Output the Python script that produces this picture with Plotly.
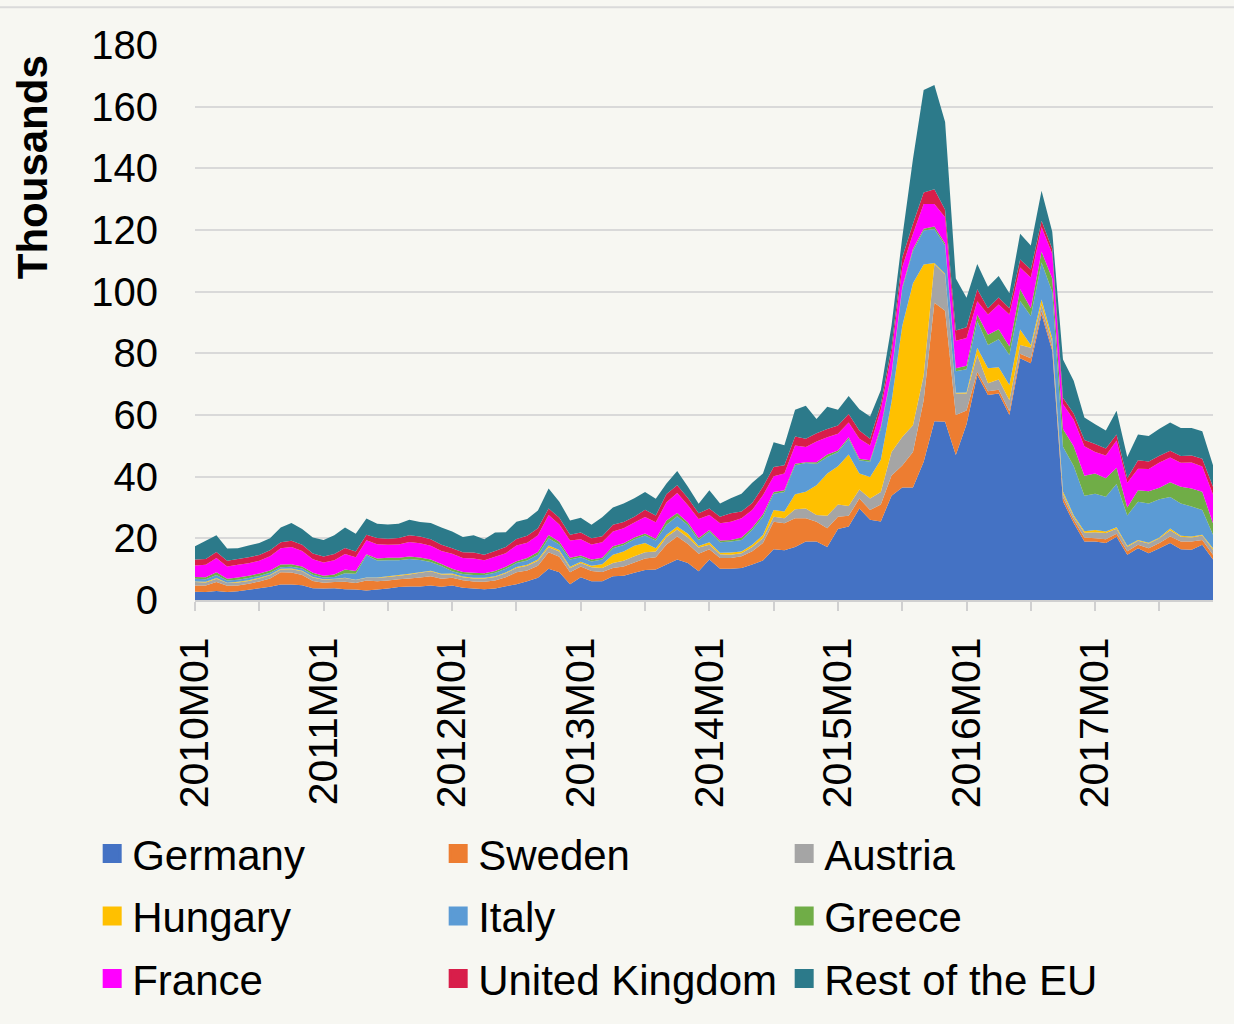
import plotly.graph_objects as go

# monthly asylum applications, thousands
MONTHS = [f"{y}M{m:02d}" for y in range(2010, 2018) for m in range(1, 13)]

GERMANY = [
    2.7, 2.6, 2.9, 2.6, 2.8, 3.3, 3.8, 4.3, 5.0, 5.0, 4.8, 3.8,
    3.7, 3.8, 3.5, 3.4, 3.1, 3.4, 3.7, 4.2, 4.4, 4.4, 4.7, 4.3,
    4.7, 4.0, 3.7, 3.5, 3.7, 4.5, 5.1, 6.1, 7.2, 10.1, 9.0, 5.1,
    7.4, 6.1, 6.1, 7.7, 7.9, 8.8, 9.7, 9.9, 11.5, 13.1, 12.0, 9.3,
    13.1, 10.1, 10.1, 10.4, 11.5, 12.8, 16.5, 16.1, 17.2, 19.0, 19.0, 17.2,
    23.0, 23.8, 29.7, 26.0, 25.5, 33.8, 36.5, 36.5, 44.8, 58.0, 57.8, 47.0,
    57.0, 73.0, 66.5, 67.0, 60.0, 78.4, 76.8, 92.6, 80.8, 32.0, 25.0, 19.0,
    19.0, 18.5, 20.5, 14.7, 16.8, 15.2, 16.8, 18.5, 16.5, 16.3, 17.9, 13.1,
]
SWEDEN = [
    2.0, 2.1, 2.9, 2.0, 1.9, 2.0, 2.2, 2.7, 4.0, 3.9, 3.3, 2.4,
    1.9, 2.0, 2.4, 2.1, 3.2, 2.7, 2.6, 2.5, 2.6, 2.9, 3.0, 2.6,
    2.5, 2.4, 2.3, 2.4, 2.6, 2.9, 3.9, 3.5, 3.9, 5.4, 5.0, 3.9,
    3.5, 3.3, 3.0, 2.7, 3.0, 3.4, 3.8, 4.0, 6.5, 7.5, 6.2, 5.7,
    3.4, 3.5, 3.5, 3.8, 4.3, 5.7, 8.9, 8.8, 9.3, 7.5, 6.4, 6.1,
    4.0, 3.5, 3.2, 3.2, 5.5, 6.6, 7.1, 11.5, 20.0, 38.4, 36.0, 13.0,
    4.5, 1.0, 1.2, 1.2, 1.2, 1.5, 1.6, 1.2, 1.0, 1.3, 1.0, 1.3,
    1.0, 1.2, 1.0, 1.1, 1.1, 1.6, 1.7, 2.1, 2.5, 2.7, 1.6, 1.6,
]
AUSTRIA = [
    1.1, 1.0, 1.1, 0.9, 1.0, 0.9, 1.0, 1.0, 0.9, 1.1, 1.2, 1.1,
    1.0, 1.0, 1.2, 1.0, 0.9, 1.1, 1.2, 1.2, 1.3, 1.5, 1.6, 1.4,
    1.1, 1.0, 1.0, 1.1, 1.2, 1.3, 1.4, 1.5, 1.6, 1.6, 1.7, 1.4,
    1.1, 1.2, 1.3, 1.6, 1.8, 2.0, 2.0, 1.8, 2.4, 2.3, 2.1, 2.0,
    1.4, 1.2, 1.1, 1.0, 1.4, 1.5, 1.6, 1.6, 2.9, 3.2, 2.2, 4.0,
    4.0, 3.2, 2.9, 3.7, 4.0, 7.6, 9.3, 8.7, 8.0, 12.6, 11.8, 7.0,
    5.5, 5.5, 2.6, 3.3, 3.6, 2.8, 3.4, 2.0, 1.8, 1.2, 1.0, 1.5,
    2.0, 2.0, 1.6, 1.5, 1.3, 1.5, 1.5, 2.0, 1.5, 1.3, 1.4, 1.6,
]
HUNGARY = [
    0.2, 0.2, 0.2, 0.1, 0.2, 0.2, 0.2, 0.2, 0.2, 0.2, 0.2, 0.2,
    0.1, 0.1, 0.1, 0.1, 0.1, 0.1, 0.2, 0.2, 0.2, 0.2, 0.2, 0.2,
    0.3, 0.2, 0.2, 0.2, 0.2, 0.2, 0.3, 0.3, 0.4, 0.6, 0.5, 0.4,
    0.4, 0.5, 1.2, 2.7, 3.0, 3.4, 3.0, 1.1, 0.8, 0.9, 1.2, 0.5,
    0.8, 0.5, 0.7, 0.5, 0.7, 1.1, 2.2, 2.2, 4.9, 5.4, 9.6, 13.7,
    12.4, 16.7, 5.2, 7.0, 10.5, 16.3, 36.0, 46.0, 36.0, 0.3, 0.2, 0.2,
    0.3, 2.3, 4.9, 4.0, 4.9, 5.0, 0.9, 1.7, 1.3, 0.7, 0.5, 0.5,
    0.7, 0.5, 0.5, 0.3, 0.3, 0.3, 0.3, 0.6, 0.3, 0.3, 0.3, 0.5,
]
ITALY = [
    0.9, 0.8, 1.0, 0.7, 0.7, 0.7, 0.6, 0.6, 0.5, 0.6, 0.7, 0.7,
    0.6, 0.6, 1.5, 1.9, 7.2, 5.5, 5.2, 4.8, 4.8, 4.0, 2.8, 2.5,
    0.7, 0.8, 0.9, 0.9, 1.1, 1.2, 1.3, 1.4, 1.6, 2.3, 1.8, 2.3,
    1.5, 1.4, 1.5, 2.1, 2.1, 2.1, 2.4, 2.5, 3.2, 3.4, 2.8, 2.0,
    3.5, 3.4, 3.6, 3.8, 4.9, 5.9, 5.3, 6.3, 9.4, 9.3, 7.0, 5.4,
    4.6, 5.1, 4.3, 4.9, 10.0, 8.8, 12.0, 10.5, 11.0, 11.0, 9.2, 7.0,
    7.5, 8.7, 7.5, 9.1, 9.8, 9.3, 9.4, 12.0, 15.0, 14.5, 16.0, 11.5,
    11.8, 11.3, 14.0, 9.8, 12.4, 12.7, 12.4, 10.2, 10.5, 9.7, 8.0, 4.4,
]
GREECE = [
    0.6, 0.7, 0.9, 0.6, 0.7, 0.8, 0.8, 0.8, 0.9, 0.8, 0.7, 0.6,
    0.6, 0.8, 1.2, 0.9, 0.3, 0.7, 0.8, 0.8, 0.8, 0.8, 0.8, 0.7,
    0.8, 0.7, 0.7, 0.6, 0.6, 0.7, 0.6, 0.8, 0.9, 1.1, 0.9, 0.6,
    0.5, 0.6, 0.6, 0.6, 0.6, 0.6, 0.7, 0.6, 1.4, 1.0, 0.8, 0.6,
    0.5, 0.6, 0.5, 0.8, 0.6, 0.8, 0.5, 0.6, 0.5, 0.3, 0.5, 0.8,
    0.5, 0.5, 0.5, 0.5, 0.7, 0.5, 0.6, 0.6, 0.6, 0.8, 0.6, 1.0,
    1.2, 2.1, 3.3, 3.2, 2.7, 3.8, 2.5, 3.5, 4.4, 5.8, 6.4, 6.5,
    6.5, 6.0, 5.3, 2.6, 3.7, 4.0, 3.7, 4.8, 5.4, 5.9, 5.9, 3.7,
]
FRANCE = [
    3.7, 4.0, 4.6, 4.0, 4.1, 4.0, 4.1, 4.6, 5.3, 5.6, 5.0, 4.4,
    4.3, 4.6, 5.0, 4.5, 4.6, 4.6, 4.2, 4.3, 4.7, 4.6, 4.5, 4.2,
    4.9, 4.5, 4.7, 4.2, 4.6, 4.4, 5.1, 5.0, 5.4, 6.5, 5.6, 5.6,
    5.3, 4.9, 5.0, 4.8, 4.9, 4.8, 5.3, 5.3, 5.9, 6.5, 5.6, 6.2,
    4.9, 5.6, 5.9, 6.2, 5.8, 6.2, 5.1, 5.4, 5.9, 4.9, 6.7, 5.6,
    5.4, 4.8, 6.5, 4.8, 5.5, 6.0, 6.4, 5.0, 8.0, 7.3, 8.5, 8.9,
    9.0, 4.3, 6.6, 8.0, 10.4, 7.0, 10.0, 8.0, 8.0, 8.1, 8.6, 9.6,
    7.0, 7.4, 8.8, 8.0, 7.0, 7.2, 8.2, 8.0, 7.8, 8.4, 8.2, 9.3,
]
UK = [
    1.9, 1.9, 2.0, 1.8, 1.9, 2.0, 1.9, 1.9, 1.9, 2.0, 2.0, 1.9,
    1.9, 2.0, 2.0, 1.8, 1.8, 2.0, 2.0, 2.1, 2.2, 2.2, 2.1, 2.0,
    1.8, 1.9, 1.9, 1.8, 1.9, 2.0, 2.1, 2.2, 2.3, 2.1, 2.2, 1.9,
    2.2, 2.0, 2.0, 2.2, 2.0, 1.9, 2.4, 2.2, 2.7, 2.5, 2.4, 1.8,
    2.1, 2.1, 2.7, 2.2, 2.3, 2.7, 3.0, 2.7, 2.9, 2.7, 2.7, 2.7,
    2.7, 2.7, 2.7, 2.2, 1.8, 2.3, 3.2, 3.2, 3.8, 4.8, 2.5, 3.3,
    3.5, 3.9, 2.0, 2.3, 2.0, 2.6, 2.6, 2.0, 1.6, 2.0, 2.0, 2.0,
    2.6, 2.2, 2.0, 1.5, 2.7, 2.4, 2.2, 2.2, 2.2, 2.3, 2.5, 2.5,
]
REST_EU = [
    4.3, 5.9, 5.4, 4.0, 3.5, 3.8, 3.9, 3.9, 4.8, 5.8, 5.1, 5.2,
    5.4, 6.1, 6.6, 5.8, 5.2, 4.6, 4.6, 4.6, 5.0, 4.7, 5.3, 5.6,
    5.4, 4.9, 5.6, 5.0, 6.0, 4.8, 5.6, 5.5, 5.7, 6.5, 5.2, 4.6,
    4.8, 4.4, 6.1, 5.6, 6.0, 6.0, 5.7, 5.4, 3.4, 4.6, 3.6, 3.1,
    5.9, 4.3, 4.9, 5.8, 6.5, 4.3, 8.1, 6.5, 8.7, 10.7, 4.6, 7.2,
    5.1, 5.9, 6.9, 7.2, 4.5, 7.1, 6.5, 21.0, 33.2, 33.8, 28.4, 16.9,
    9.5, 8.2, 7.0, 7.0, 4.9, 8.4, 7.8, 9.7, 5.5, 12.4, 10.6, 7.3,
    6.4, 5.9, 7.7, 6.9, 8.4, 8.3, 8.7, 9.2, 9.1, 8.9, 8.9, 7.0,
]

SERIES = [
    ("Germany", GERMANY, "#4472C4"),
    ("Sweden", SWEDEN, "#ED7D31"),
    ("Austria", AUSTRIA, "#A5A5A5"),
    ("Hungary", HUNGARY, "#FFC000"),
    ("Italy", ITALY, "#5B9BD5"),
    ("Greece", GREECE, "#70AD47"),
    ("France", FRANCE, "#FF00FF"),
    ("United Kingdom", UK, "#D81E4A"),
    ("Rest of the EU", REST_EU, "#2C7A8A"),
]

FONT = "Liberation Sans, Arial, sans-serif"
BG = "#F7F7F2"

fig = go.Figure()
for name, vals, color in SERIES:
    fig.add_trace(go.Scatter(
        x=MONTHS, y=vals, stackgroup="eu", mode="none",
        fillcolor=color, line=dict(width=0), name=name,
        showlegend=False, hoverinfo="x+y+name",
    ))

# legend: three rows of three, each row its own legend
legend_ids = ["legend", "legend2", "legend3"]
for i, (name, vals, color) in enumerate(SERIES):
    fig.add_trace(go.Scatter(
        x=[None], y=[None], mode="markers", name=name,
        marker=dict(symbol="square", size=16, color=color,
                    line=dict(width=3, color=color)),
        legend=legend_ids[i // 3],
    ))

row_y = [-0.457, -0.5697, -0.6824]
leg_common = dict(orientation="h", x=-0.101, xanchor="left", yanchor="middle",
                  traceorder="normal",
                  entrywidth=301, entrywidthmode="pixels",
                  font=dict(family=FONT, size=42, color="#000000"),
                  bgcolor="rgba(0,0,0,0)", itemclick=False, itemdoubleclick=False)

tick_months = MONTHS[::6]
tick_text = [m if m.endswith("M01") else "" for m in tick_months]

fig.update_layout(
    width=1234, height=1024,
    margin=dict(l=195, r=21, t=45, b=420),
    paper_bgcolor=BG, plot_bgcolor=BG,
    font=dict(family=FONT, size=40, color="#000000"),
    legend=dict(y=row_y[0], **leg_common),
    legend2=dict(y=row_y[1], **leg_common),
    legend3=dict(y=row_y[2], **leg_common),
    xaxis=dict(
        type="category", range=[0, len(MONTHS) - 1],
        tickmode="array", tickvals=tick_months, ticktext=tick_text,
        tickangle=-90, ticks="outside", ticklen=9, tickwidth=2, tickcolor="#D0D0D0",
        ticklabelstandoff=10,
        showgrid=False, showline=True, linecolor="#D0D0D0", linewidth=2,
        tickfont=dict(size=41), zeroline=False,
    ),
    yaxis=dict(
        range=[0, 180], dtick=20, tick0=0,
        showgrid=True, gridcolor="#D9D9D9", gridwidth=2,
        zeroline=False, showline=False, ticks="",
        ticklabelstandoff=36, tickfont=dict(size=40),
    ),
    annotations=[dict(
        text="<b>Thousands</b>", textangle=-90, showarrow=False,
        xref="paper", yref="paper", x=-0.160, y=0.78,
        xanchor="center", yanchor="middle",
        font=dict(family=FONT, size=42, color="#000000"),
    )],
    shapes=[dict(
        type="line", xref="paper", yref="paper",
        x0=-0.1916, x1=1.0206, y0=1.068, y1=1.068,
        line=dict(color="#DADADA", width=2),
    )],
)

fig.write_html("out.html", config={"displayModeBar": False},
               post_script="document.body.style.margin='0';document.body.style.overflow='hidden';")
